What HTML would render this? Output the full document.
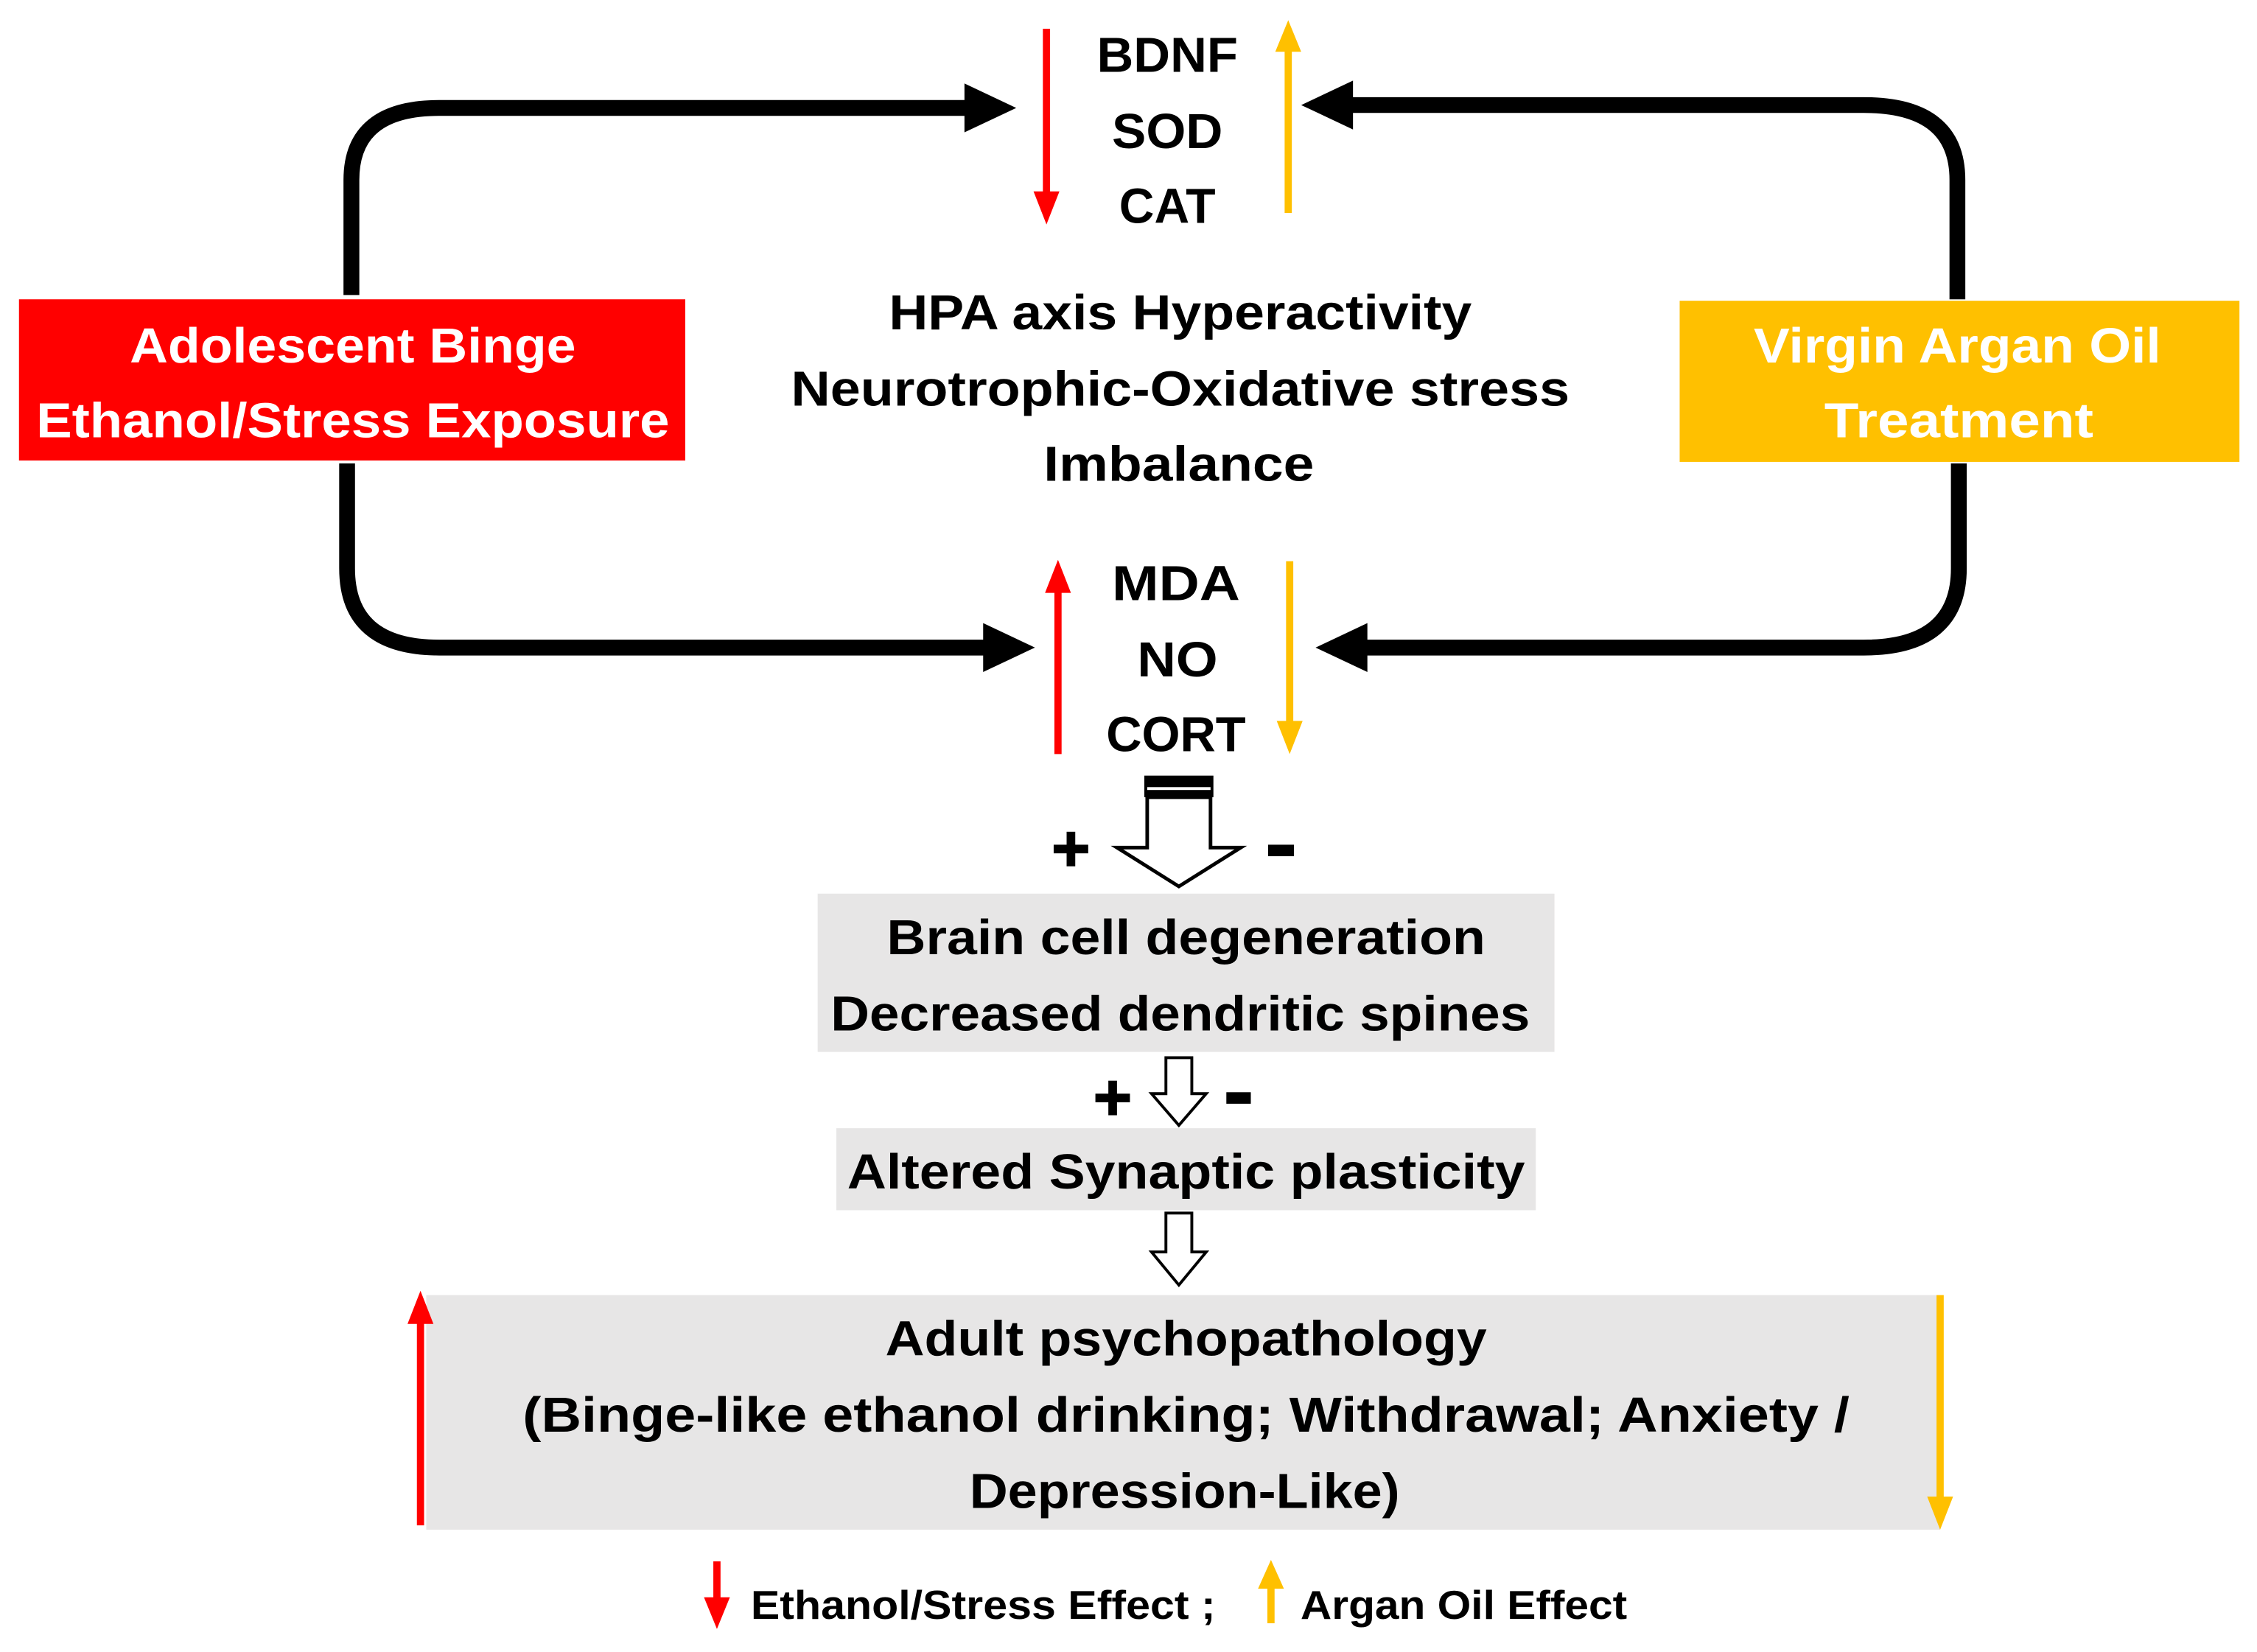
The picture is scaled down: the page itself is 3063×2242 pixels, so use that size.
<!DOCTYPE html>
<html><head><meta charset="utf-8"><style>
html,body{margin:0;padding:0;background:#fff;}
svg{display:block;}
text{font-family:"Liberation Sans",sans-serif;font-weight:bold;text-anchor:middle;}
</style></head><body>
<svg width="3063" height="2242" viewBox="0 0 1568 1148" xmlns="http://www.w3.org/2000/svg">
<!-- loops -->
<g fill="none" stroke="#000" stroke-width="11">
<path d="M244,205 L244,125 Q244,75 305,75 L675,75"/>
<path d="M241,322 L241,395 Q241,450 305,450 L688,450"/>
<path d="M1360,208 L1360,125 Q1360,73 1295,73 L935,73"/>
<path d="M1361,322 L1361,395 Q1361,450 1295,450 L945,450"/>
</g>
<g fill="#000">
<polygon points="670,58 706,75 670,92"/>
<polygon points="683,433 719,450 683,467"/>
<polygon points="940,56 904,73 940,90"/>
<polygon points="950,433 914,450 950,467"/>
</g>
<!-- boxes -->
<rect x="13" y="208" width="463" height="112" fill="#FF0000"/>
<rect x="1167" y="209" width="389" height="112" fill="#FFC000"/>
<rect x="568" y="621" width="512" height="110" fill="#E7E6E6"/>
<rect x="581" y="784" width="486" height="57" fill="#E7E6E6"/>
<rect x="296" y="900" width="1052" height="163" fill="#E7E6E6"/>
<!-- colored arrows -->
<g stroke-width="5">
<line x1="727" y1="20" x2="727" y2="135" stroke="#FF0000"/>
<line x1="895" y1="148" x2="895" y2="32" stroke="#FFC000"/>
<line x1="735" y1="524" x2="735" y2="408" stroke="#FF0000"/>
<line x1="896" y1="390" x2="896" y2="505" stroke="#FFC000"/>
<line x1="292" y1="1060" x2="292" y2="915" stroke="#FF0000"/>
<line x1="1348" y1="900" x2="1348" y2="1045" stroke="#FFC000"/>
<line x1="498" y1="1085" x2="498" y2="1115" stroke="#FF0000"/>
<line x1="883" y1="1128" x2="883" y2="1100" stroke="#FFC000"/>
</g>
<polygon points="718,133 736,133 727,156" fill="#FF0000"/>
<polygon points="886,36 904,36 895,14" fill="#FFC000"/>
<polygon points="726,412 744,412 735,389" fill="#FF0000"/>
<polygon points="887,501 905,501 896,524" fill="#FFC000"/>
<polygon points="283,920 301,920 292,897" fill="#FF0000"/>
<polygon points="1339,1040 1357,1040 1348,1063" fill="#FFC000"/>
<polygon points="489,1110 507,1110 498,1132" fill="#FF0000"/>
<polygon points="874,1104 892,1104 883,1084" fill="#FFC000"/>
<!-- block arrows -->
<rect x="795" y="539" width="48" height="15" fill="#000"/>
<rect x="797" y="547" width="44" height="2" fill="#fff"/>
<polygon points="797,554 841,554 841,589 862,589 819,616 776,589 797,589" fill="#fff" stroke="#000" stroke-width="2.5"/>
<polygon points="810,735 828,735 828,760 838,760 819,782 800,760 810,760" fill="#fff" stroke="#000" stroke-width="2"/>
<polygon points="810,843 828,843 828,870 838,870 819,893 800,870 810,870" fill="#fff" stroke="#000" stroke-width="2"/>
<!-- plus/minus -->
<g fill="#000">
<rect x="732" y="587" width="24" height="6"/><rect x="741" y="578" width="6" height="24"/>
<rect x="881" y="587" width="18" height="8"/>
<rect x="761" y="760" width="24" height="6"/><rect x="770" y="751" width="6" height="24"/>
<rect x="852" y="759" width="17" height="8"/>
</g>
<!-- text -->
<g font-size="34" fill="#000">
<text x="811" y="50" textLength="98" lengthAdjust="spacingAndGlyphs">BDNF</text>
<text x="811" y="103" textLength="77" lengthAdjust="spacingAndGlyphs">SOD</text>
<text x="811" y="155" textLength="67" lengthAdjust="spacingAndGlyphs">CAT</text>
<text x="820" y="229" textLength="405" lengthAdjust="spacingAndGlyphs">HPA axis Hyperactivity</text>
<text x="820" y="282" textLength="541" lengthAdjust="spacingAndGlyphs">Neurotrophic-Oxidative stress</text>
<text x="819" y="334" textLength="188" lengthAdjust="spacingAndGlyphs">Imbalance</text>
<text x="817" y="417" textLength="89" lengthAdjust="spacingAndGlyphs">MDA</text>
<text x="818" y="470" textLength="56" lengthAdjust="spacingAndGlyphs">NO</text>
<text x="817" y="522" textLength="97" lengthAdjust="spacingAndGlyphs">CORT</text>
<text x="824" y="663" textLength="416" lengthAdjust="spacingAndGlyphs">Brain cell degeneration</text>
<text x="820" y="716" textLength="486" lengthAdjust="spacingAndGlyphs">Decreased dendritic spines</text>
<text x="824" y="826" textLength="471" lengthAdjust="spacingAndGlyphs">Altered Synaptic plasticity</text>
<text x="824" y="942" textLength="418" lengthAdjust="spacingAndGlyphs">Adult psychopathology</text>
<text x="824" y="995" textLength="922" lengthAdjust="spacingAndGlyphs">(Binge-like ethanol drinking; Withdrawal; Anxiety /</text>
<text x="823" y="1048" textLength="299" lengthAdjust="spacingAndGlyphs">Depression-Like)</text>
<text x="245" y="252" fill="#fff" textLength="310" lengthAdjust="spacingAndGlyphs">Adolescent Binge</text>
<text x="245" y="304" fill="#fff" textLength="440" lengthAdjust="spacingAndGlyphs">Ethanol/Stress Exposure</text>
<text x="1360" y="252" fill="#fff" textLength="283" lengthAdjust="spacingAndGlyphs">Virgin Argan Oil</text>
<text x="1361" y="304" fill="#fff" textLength="187" lengthAdjust="spacingAndGlyphs">Treatment</text>
<text x="683" y="1125" font-size="28" textLength="323" lengthAdjust="spacingAndGlyphs">Ethanol/Stress Effect ;</text>
<text x="1017" y="1125" font-size="28" textLength="227" lengthAdjust="spacingAndGlyphs">Argan Oil Effect</text>
</g>
</svg>
</body></html>
